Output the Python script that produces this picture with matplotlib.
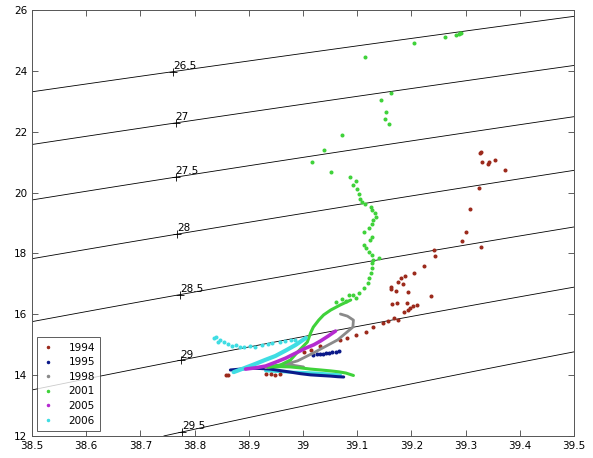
import numpy as np
import matplotlib
matplotlib.use("Agg")
import matplotlib.pyplot as plt

# ---- potential density (UNESCO EOS-80, surface pressure) ----
def sigma0(S, T):
    rw = (999.842594 + 6.793952e-2 * T - 9.095290e-3 * T**2 + 1.001685e-4 * T**3
          - 1.120083e-6 * T**4 + 6.536332e-9 * T**5)
    b = 0.824493 - 4.0899e-3 * T + 7.6438e-5 * T**2 - 8.2467e-7 * T**3 + 5.3875e-9 * T**4
    c = -5.72466e-3 + 1.0227e-4 * T - 1.6546e-6 * T**2
    return rw + b * S + c * S**1.5 + 4.8314e-4 * S**2 - 1000.0

sigma_levels = [26.5, 27, 27.5, 28, 28.5, 29, 29.5]
label_sal = [38.760, 38.765, 38.765, 38.768, 38.773, 38.774, 38.777]

# ---- observations (salinity, potential temperature) ----
years = ["1994", "1995", "1998", "2001", "2005", "2006"]
colors = ["#9c2a1c", "#0b1a8a", "#8a8a8a", "#3fd23a", "#b52ad0", "#3fdde3"]

# 1994 : bottle samples
s1994 = [38.857, 38.862, 38.931, 38.940, 38.948, 38.958, 39.001, 39.014, 39.032,
         39.069, 39.082, 39.097, 39.116, 39.130, 39.147, 39.156, 39.167, 39.175,
         39.162, 39.162, 39.171, 39.180, 39.175, 39.189, 39.184, 39.193, 39.204,
         39.223, 39.236, 39.165, 39.173, 39.191, 39.186, 39.193, 39.197, 39.202,
         39.210, 39.241, 39.243, 39.293, 39.300, 39.328, 39.324, 39.308, 39.326,
         39.328, 39.330, 39.343, 39.341, 39.354, 39.372]
t1994 = [14.00, 14.00, 14.03, 14.03, 14.02, 14.03, 14.76, 14.82, 14.95,
         15.16, 15.22, 15.32, 15.42, 15.58, 15.71, 15.78, 15.88, 15.81,
         16.90, 16.83, 16.77, 17.19, 17.06, 17.26, 17.00, 16.73, 17.36,
         17.59, 16.60, 16.34, 16.37, 16.37, 16.08, 16.14, 16.21, 16.27,
         16.31, 18.11, 17.92, 18.41, 18.70, 18.21, 20.15, 19.46, 21.30,
         21.32, 21.00, 21.00, 20.94, 21.07, 20.74]

# 1995 : CTD profile
s1995 = [38.866, 38.885, 38.903, 38.921, 38.940, 38.958, 38.977, 38.995, 39.014,
         39.032, 39.051, 39.064, 39.075]
t1995 = [14.17, 14.20, 14.23, 14.22, 14.20, 14.15, 14.10, 14.05, 14.01,
         13.99, 13.97, 13.95, 13.94]
s1995b = [39.019, 39.025, 39.031, 39.037, 39.042, 39.048, 39.054, 39.060, 39.066]
t1995b = [14.66, 14.68, 14.69, 14.71, 14.73, 14.74, 14.76, 14.77, 14.79]

# 1998 : CTD profile
s1998 = [39.069, 39.082, 39.093, 39.092, 39.078, 39.064, 39.042, 39.019, 38.990,
         38.970, 38.950, 38.930, 38.955, 38.980, 39.001]
t1998 = [16.01, 15.94, 15.81, 15.58, 15.37, 15.16, 14.95, 14.73, 14.47,
         14.37, 14.31, 14.26, 14.30, 14.33, 14.27]

# 2001 : upper samples and CTD profile
s2001 = [39.283, 39.287, 39.289, 39.291, 39.262, 39.204, 39.114, 39.162, 39.143,
         39.154, 39.151, 39.158, 39.071, 39.038, 39.016, 39.051, 39.086, 39.097,
         39.093, 39.099, 39.103, 39.106, 39.108, 39.114, 39.125, 39.128, 39.132,
         39.134, 39.130, 39.127, 39.121, 39.112, 39.128, 39.123, 39.112, 39.117,
         39.121, 39.127, 39.140, 39.130, 39.128, 39.127, 39.125, 39.121, 39.119,
         39.112, 39.103, 39.093, 39.084, 39.097, 39.071, 39.060, 39.079]
t2001 = [25.17, 25.21, 25.24, 25.24, 25.11, 24.92, 24.46, 23.27, 23.04,
         22.65, 22.42, 22.25, 21.89, 21.40, 21.00, 20.68, 20.51, 20.38,
         20.25, 20.12, 19.95, 19.79, 19.69, 19.62, 19.53, 19.43, 19.33,
         19.20, 19.10, 18.97, 18.84, 18.70, 18.54, 18.44, 18.28, 18.18,
         18.05, 17.95, 17.85, 17.78, 17.69, 17.52, 17.36, 17.19, 17.03,
         16.86, 16.70, 16.63, 16.63, 16.54, 16.50, 16.40, 16.45]
s2001b = [39.088, 39.069, 39.051, 39.038, 39.029, 39.019, 39.014, 39.008, 38.990,
          38.977, 38.958, 38.935, 38.960, 38.977, 38.995, 39.014, 39.033, 39.051,
          39.066, 39.079, 39.093]
t2001b = [16.47, 16.31, 16.14, 15.98, 15.81, 15.58, 15.39, 15.09, 14.76,
          14.50, 14.33, 14.27, 14.28, 14.27, 14.24, 14.20, 14.17, 14.14,
          14.11, 14.07, 13.99]

# 2005 : CTD profile
s2005 = [38.894, 38.912, 38.931, 38.950, 38.968, 38.986, 39.005, 39.020, 39.032,
         39.046, 39.060]
t2005 = [14.20, 14.24, 14.30, 14.43, 14.56, 14.72, 14.89, 15.00, 15.12,
         15.28, 15.45]

# 2006 : upper samples and CTD profile
s2006 = [38.835, 38.840, 38.847, 38.854, 38.843, 38.862, 38.869, 38.877, 38.884,
         38.891, 38.903, 38.912, 38.925, 38.936, 38.943, 38.958, 38.967, 38.977,
         38.986]
t2006 = [15.22, 15.25, 15.16, 15.10, 15.10, 15.03, 14.97, 15.00, 14.94,
         14.94, 14.97, 14.94, 15.00, 15.03, 15.06, 15.09, 15.12, 15.14,
         15.17]
s2006b = [38.872, 38.890, 38.912, 38.930, 38.949, 38.968, 38.986, 39.005]
t2006b = [14.10, 14.22, 14.37, 14.50, 14.63, 14.81, 14.99, 15.22]
s2006c = [38.931, 38.955, 38.977, 39.000, 39.023, 39.046, 39.069]
t2006c = [14.14, 14.12, 14.10, 14.09, 14.07, 14.04, 14.01]

# ---- figure ----
fig = plt.figure(figsize=(5.93, 4.58), dpi=100)
ax = fig.add_axes([0.054, 0.048, 0.914, 0.930])

sal_grid = np.linspace(38.5, 39.5, 201)
tem_grid = np.linspace(12, 26, 281)
SS, TT = np.meshgrid(sal_grid, tem_grid)
ax.contour(SS, TT, sigma0(SS, TT), levels=sigma_levels, colors="k",
           linewidths=0.6, zorder=1)

# MATLAB-style contour labels: '+' at the point with the value beside it
for lev, s0 in zip(sigma_levels, label_sal):
    lo, hi = 0.0, 40.0
    for _ in range(60):
        mid = 0.5 * (lo + hi)
        if sigma0(s0, mid) > lev:
            lo = mid
        else:
            hi = mid
    t0 = 0.5 * (lo + hi)
    ax.plot(s0, t0, marker="+", color="k", ms=6, mew=0.6, zorder=2)
    ax.annotate(f"{lev:g}", (s0, t0), xytext=(0, 0.5), textcoords="offset points",
                ha="left", va="bottom", fontsize=7.5, zorder=2)

mk = dict(marker=".", linestyle="none", ms=3.8, zorder=3)
ax.plot(s1994, t1994, color=colors[0], label=years[0], **mk)
ax.plot(s1995, t1995, color=colors[1], lw=2.2, zorder=3, solid_capstyle="round")
ax.plot(s1995b, t1995b, color=colors[1], label=years[1], **mk)
ax.plot(s1998, t1998, color=colors[2], lw=2.0, zorder=3, solid_capstyle="round")
ax.plot([], [], color=colors[2], label=years[2], **mk)
ax.plot(s2001, t2001, color=colors[3], label=years[3], **mk)
ax.plot(s2001b, t2001b, color=colors[3], lw=2.2, zorder=3, solid_capstyle="round")
ax.plot(s2005, t2005, color=colors[4], lw=2.6, zorder=4, solid_capstyle="round")
ax.plot([], [], color=colors[4], label=years[4], **mk)
ax.plot(s2006, t2006, color=colors[5], label=years[5], **mk)
ax.plot(s2006b, t2006b, color=colors[5], lw=3.0, zorder=3, solid_capstyle="round")
ax.plot(s2006c, t2006c, color=colors[5], lw=2.2, zorder=2.9, solid_capstyle="round")

ax.set_xlim(38.5, 39.5)
ax.set_ylim(12, 26)
ax.set_xticks(np.arange(38.5, 39.51, 0.1))
ax.set_xticklabels([f"{v:.1f}" if abs(v - 39) > 1e-6 else "39"
                    for v in np.arange(38.5, 39.51, 0.1)])
ax.set_yticks(np.arange(12, 26.1, 2))
ax.tick_params(direction="in", top=True, right=True, labelsize=7.5,
               length=4, width=0.6, color="#444444")
for sp in ax.spines.values():
    sp.set_linewidth(0.7)
    sp.set_color("#555555")

leg = ax.legend(loc="lower left", fontsize=7.5, frameon=True, fancybox=False,
                edgecolor="#333333", borderaxespad=0.5, handlelength=1.0,
                handletextpad=1.5, labelspacing=0.44, markerscale=0.8,
                borderpad=0.5)
leg.get_frame().set_linewidth(0.7)

fig.savefig("out.png", dpi=100)
